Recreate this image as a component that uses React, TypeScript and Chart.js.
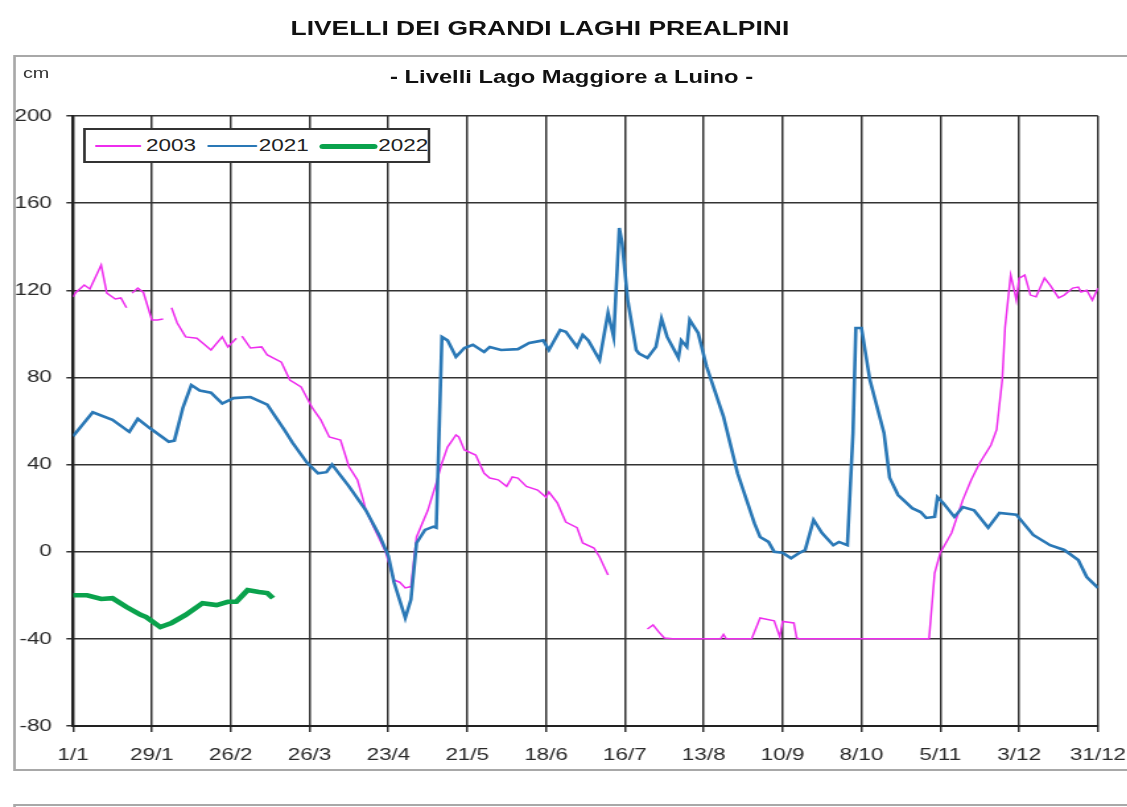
import React, { useEffect, useRef } from "react";
import { Chart, registerables } from "chart.js";

Chart.register(...registerables);

// ---- data ----
const tickLabels = ["1/1", "29/1", "26/2", "26/3", "23/4", "21/5", "18/6", "16/7", "13/8", "10/9", "8/10", "5/11", "3/12", "31/12"];
const seriesNames = ["2003", "2021", "2022"];

const days2003 = [0, 1, 4, 6, 10, 12, 15, 17, 19, 20,
  21, 23, 25, 28, 30, 32, 33,
  35, 37, 40, 44, 49, 53, 55, 58, 59,
  60, 63, 67, 69, 74, 77, 81, 85, 88, 91, 95, 98, 101, 103, 104, 108, 111, 114, 116, 118, 120, 122, 126, 129, 131, 133, 136, 137, 139, 143, 146, 148, 151, 154, 156, 158, 161, 165, 168, 169, 172, 175, 179, 181, 185, 187, 190, 191,
  204, 206, 208, 210, 213, 230, 231, 232, 241, 244, 249, 251, 252, 256, 257, 258, 304, 306, 308, 312, 316, 319, 322, 326, 328, 330, 331, 333, 334, 335, 336, 338, 340, 342, 345, 347, 350, 352, 355, 357, 358, 360, 362, 364];
const levels2003 = [117, 119, 122.4, 120.6, 131.6, 118.7, 116, 116.5, 112, null,
  118.7, 121, 119, 106.4, 106.4, 106.8, null,
  112, 105, 98.6, 98, 92.6, 98.6, 94, 98, null,
  99, 93.5, 94, 90.3, 87, 78.8, 75.6, 66, 60.5, 52.7, 51.3, 39, 33, 24, 19, 8, 0, -13, -14, -16.6, -16, 6.8, 19, 31.5, 40.7, 48, 53.6, 52.7, 46.7, 44.4, 36, 33.8, 33, 30, 34.3, 33.8, 30, 28.3, 25, 27.4, 22.4, 13.6, 11, 4, 1.7, -2.4, -10.7, null,
  -35.5, -33.6, -36.8, -39.6, -40, -40, -38, -40, -40, -30.4, -31.7, -39, -32, -32.7, -39.6, -40, -40, -9.8, -0.5, 8.6, 23.8, 33, 40.7, 49, 56, 78.8, 103, 127, 121.5, 115.5, 125.6, 127, 117.8, 117, 125.6, 122.4, 116.5, 117.8, 121, 121.5, 119.2, 120, 115.5, 121];

const days2021 = [0, 7, 14, 20, 23, 27, 34, 36, 39, 42, 45, 49, 53, 57, 63, 69, 75, 78, 83, 87,
  90, 92, 98, 104, 109, 112, 114, 118, 120, 122, 125, 128, 129, 130, 131, 133, 136, 139, 142, 146,
  148, 152, 158, 162, 167, 169, 173, 175, 179, 181, 183, 187, 190, 192, 194, 195, 197, 200, 201, 204,
  207, 209, 211, 215, 216, 218, 219, 222, 225, 231, 236, 242, 244, 247, 249, 252, 255, 258, 260, 263,
  266, 270, 272, 275, 277, 278, 280, 283, 288, 290, 293, 296, 298, 301, 303, 306, 307, 309, 313, 316,
  320, 325, 329, 335, 341, 347, 352, 357, 360, 364];
const levels2021 = [53, 64, 60.5, 55, 61, 57, 50.5, 51, 66, 76.5, 74, 73, 68, 70.5, 71, 67.5, 56, 50, 41, 36,
  36.5, 40, 30, 19, 7, -2, -14, -30.5, -22, 4, 10, 11.5, 11, 54, 98.6, 97, 89.5, 93.5, 95, 91.7,
  94, 92.6, 93, 95.8, 97, 92.6, 101.8, 101, 94, 99.5, 97, 88, 109.6, 98.6, 148.6, 141.7, 115.5, 92.6, 91, 89,
  94, 107, 98.6, 89, 97, 94, 106.4, 100.4, 85, 62, 36, 13, 6.8, 4.5, 0, -0.5, -3, -0.5, 0.8, 14.6,
  8.6, 3, 4.5, 3, 54.5, 102.7, 102.7, 78.8, 54.5, 34, 26, 22.4, 20, 18.2, 15.5, 16, 25, 22.4, 16, 20.5,
  19, 11, 17.8, 17, 7.7, 3, 0.8, -3.8, -11.6, -16.6];

const days2022 = [0, 5, 10, 14, 19, 24, 26, 31, 35, 40, 46, 51, 55, 58, 62, 66, 69, 71];
const levels2022 = [-20, -20, -21.7, -21.3, -25.4, -29, -30, -34.6, -32.7, -29, -23.6, -24.5, -23, -23, -17.6, -18.5, -19, -21.3];

// ---- style ----
const STRETCH = 1.32;
const BASE_W = 854;
const H = 807;
const FONT = '"Liberation Sans", Arial, Helvetica, sans-serif';
const C2003 = "#ee2cee";
const C2021 = "#2a78b6";
const C2022 = "#0aa24c";

const toPoints = (d: number[], v: (number | null)[]) => d.map((x, i) => ({ x, y: v[i] }));

export default function App() {
  const ref = useRef<HTMLCanvasElement>(null);

  useEffect(() => {
    const chart = new Chart(ref.current as HTMLCanvasElement, {
      type: "line",
      data: {
        datasets: [
          { label: seriesNames[0], data: toPoints(days2003, levels2003), borderColor: C2003, borderWidth: 1.5, pointRadius: 0, spanGaps: false, tension: 0, order: 3 },
          { label: seriesNames[1], data: toPoints(days2021, levels2021), borderColor: C2021, borderWidth: 2.6, pointRadius: 0, spanGaps: false, tension: 0, order: 2 },
          { label: seriesNames[2], data: toPoints(days2022, levels2022), borderColor: C2022, borderWidth: 4.6, pointRadius: 0, spanGaps: false, tension: 0, order: 1 },
        ],
      } as any,
      options: {
        responsive: false,
        maintainAspectRatio: false,
        animation: false,
        devicePixelRatio: 1,
        events: [],
        layout: { padding: { left: 10.3, right: 22.2, top: 116, bottom: 41 } },
        plugins: { legend: { display: false }, tooltip: { enabled: false }, title: { display: false } },
        scales: {
          x: {
            type: "linear",
            min: 0,
            max: 364,
            ticks: {
              stepSize: 28,
              autoSkip: false,
              maxRotation: 0,
              callback: (v: any) => tickLabels[Math.round(Number(v) / 28)] ?? "",
              font: { family: FONT, size: 17 },
              color: "#2a2a2a",
              padding: 13,
            },
            grid: { color: "#333", lineWidth: 1.5, tickLength: 6 },
            border: { color: "#222", width: 2 },
            afterFit: (s: any) => { s.height = 40; s.paddingLeft = 0; s.paddingRight = 0; },
          },
          y: {
            min: -80,
            max: 200,
            ticks: { stepSize: 40, font: { family: FONT, size: 17 }, color: "#2a2a2a", padding: 11 },
            grid: { color: "#333", lineWidth: 1.5, tickLength: 5 },
            border: { color: "#222", width: 2 },
            afterFit: (s: any) => { s.width = 45; s.paddingTop = 0; s.paddingBottom = 0; },
          },
        },
      } as any,
    });
    return () => chart.destroy();
  }, []);

  const legendItem = (left: number, width: number, color: string, lw: number) => (
    <div style={{ position: "absolute", left, top: 16 - lw / 2, width, height: lw, background: color, borderRadius: lw / 2 }} />
  );
  const legendText = (left: number, text: string) => (
    <div style={{ position: "absolute", left, top: 6, fontSize: 17, lineHeight: "20px", color: "#222" }}>{text}</div>
  );

  return (
    <div style={{ position: "fixed", left: 0, top: 0, width: 1127, height: H, overflow: "hidden", background: "#fff" }}>
      <div style={{ position: "absolute", left: 0, top: 0, width: BASE_W, height: H, transform: `scaleX(${STRETCH})`, transformOrigin: "0 0", fontFamily: FONT }}>
        <div style={{ position: "absolute", left: 0, top: 16, width: 818, textAlign: "center", fontSize: 20, lineHeight: "24px", fontWeight: "bold", color: "#111" }}>
          LIVELLI DEI GRANDI LAGHI PREALPINI
        </div>
        <div style={{ position: "absolute", left: 9.8, top: 55, width: 880, height: 716, border: "2px solid #a8a8a8", boxSizing: "border-box" }} />
        <div style={{ position: "absolute", left: 9.8, top: 804, width: 880, height: 60, border: "2px solid #a8a8a8", boxSizing: "border-box" }} />
        <div style={{ position: "absolute", left: 17.4, top: 64, fontSize: 15, lineHeight: "18px", color: "#333" }}>cm</div>
        <div style={{ position: "absolute", left: 0, top: 66, width: 866, textAlign: "center", fontSize: 18, lineHeight: "22px", fontWeight: "bold", color: "#111" }}>
          - Livelli Lago Maggiore a Luino -
        </div>
        <canvas ref={ref} width={BASE_W} height={H} style={{ position: "absolute", left: 0, top: 0, width: BASE_W, height: H }} />
        <div style={{ position: "absolute", left: 62.6, top: 128, width: 263.2, height: 35, border: "2px solid #333", boxSizing: "border-box", background: "#fff" }}>
          {legendItem(7.4, 35, C2003, 1.6)}
          {legendText(46, seriesNames[0])}
          {legendItem(92, 38, C2021, 2.6)}
          {legendText(131.4, seriesNames[1])}
          {legendItem(177.8, 44, C2022, 5)}
          {legendText(222, seriesNames[2])}
        </div>
      </div>
    </div>
  );
}
